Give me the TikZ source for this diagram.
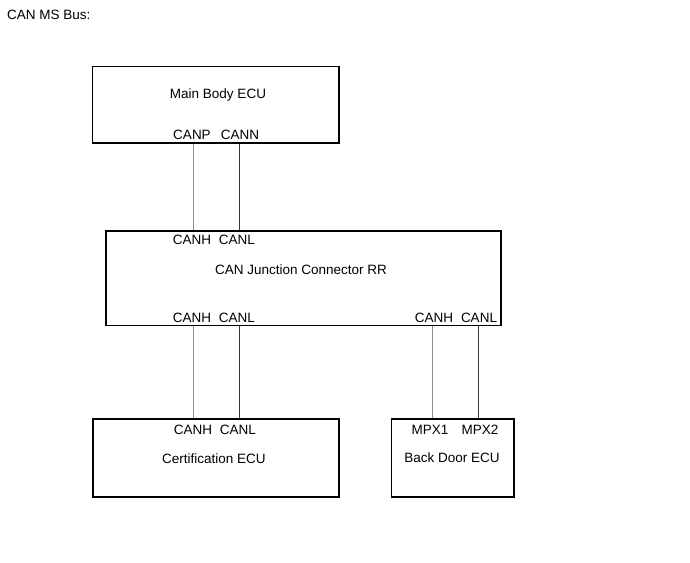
\documentclass[tikz,border=0pt]{standalone}
\usepackage{fontspec}
\setmainfont{Liberation Sans}
\begin{document}
\begin{tikzpicture}[x=1pt,y=-1pt,
  box/.style={draw=black,line width=1.5pt,rectangle,inner sep=0pt},
  lbl/.style={anchor=base,inner sep=0pt,font=\fontsize{13.5}{16}\selectfont},
  hwire/.style={draw=black!45,line width=1pt},
  lwire/.style={draw=black!80,line width=1pt}]
\useasboundingbox (0,0) rectangle (690,562);
% boxes
\node[box,minimum width=246.5pt,minimum height=76.5pt] (mb) at (215.75,104.75) {};
\node[box,minimum width=395pt,minimum height=94.5pt] (jc) at (303.5,278.25) {};
\node[box,minimum width=246pt,minimum height=78pt] (ce) at (216,458) {};
\node[box,minimum width=122.5pt,minimum height=78pt] (bd) at (452.75,458) {};
% title
\node[lbl,anchor=base west] (title) at (7,19) {CAN MS Bus:};
% labels
\node[lbl] (mbname) at (218,98) {Main Body ECU};
\node[lbl] (mbp) at (192,139) {CANP};
\node[lbl] (mbn) at (240,139) {CANN};
\node[lbl] (jth) at (192,244) {CANH};
\node[lbl] (jtl) at (237,244) {CANL};
\node[lbl] (jcname) at (301,274) {CAN Junction Connector RR};
\node[lbl] (jbh1) at (192,322) {CANH};
\node[lbl] (jbl1) at (237,322) {CANL};
\node[lbl] (jbh2) at (434,322) {CANH};
\node[lbl] (jbl2) at (479,322) {CANL};
\node[lbl] (ceh) at (193,434) {CANH};
\node[lbl] (cel) at (238,434) {CANL};
\node[lbl] (cename) at (214,463) {Certification ECU};
\node[lbl] (bd1) at (430,434) {MPX1};
\node[lbl] (bd2) at (480,434) {MPX2};
\node[lbl] (bdname) at (452,462) {Back Door ECU};
% wire x positions
\coordinate (x1) at (193,0);
\coordinate (x2) at (239,0);
\coordinate (x3) at (432,0);
\coordinate (x4) at (478,0);
% wires
\draw[hwire] (x1 |- mb.south) -- (x1 |- jc.north);
\draw[lwire] (x2 |- mb.south) -- (x2 |- jc.north);
\draw[hwire] (x1 |- jc.south) -- (x1 |- ce.north);
\draw[lwire] (x2 |- jc.south) -- (x2 |- ce.north);
\draw[hwire] (x3 |- jc.south) -- (x3 |- bd.north);
\draw[lwire] (x4 |- jc.south) -- (x4 |- bd.north);
\end{tikzpicture}
\end{document}
